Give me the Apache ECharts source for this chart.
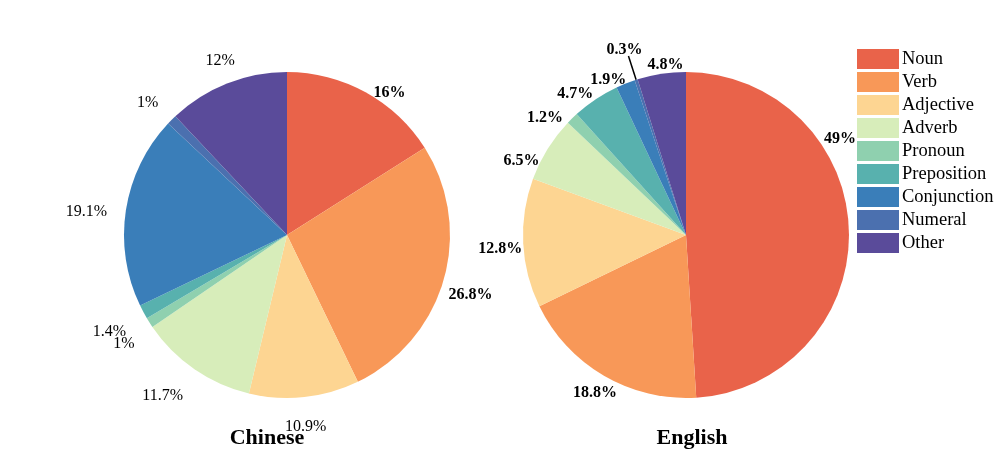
<!DOCTYPE html>
<html><head><meta charset="utf-8">
<script src="https://cdn.jsdelivr.net/npm/echarts@6/dist/echarts.min.js"></script>
<style>html,body{margin:0;padding:0;background:#fff}#c{width:996px;height:471px}</style>
</head><body><div id="c"></div>
<script>
const categories = ['Noun','Verb','Adjective','Adverb','Pronoun','Preposition','Conjunction','Numeral','Other'];
const chineseValues = [16, 26.8, 10.9, 11.7, 1, 1.4, 19.1, 1, 12];
const englishValues = [49, 18.8, 12.8, 6.5, 1.2, 4.7, 1.9, 0.3, 4.8];
const titles = ['Chinese', 'English'];
const colors = ['#E9634A','#F89858','#FDD592','#D7EDBA','#8FD0AF','#58B1AE','#3A7EB9','#4B70AF','#5A4B9A'];

// label nudges (style only, in px) per series / slice
const labelNudge = [
  [[0,6],[-6,13],[-25,24],[-3,22],[-5,18],[-7,17],[-8,2],[-4,-13],[15,-17]],
  [[-36,-91],[21,12],[10,5],[2,15],[0,4],[6,0],[8,2],[19,-6],[28,-3]]
];

const FONT = 'Liberation Serif';
const chart = echarts.init(document.getElementById('c'), null, {renderer:'canvas'});

function mkData(vals, boldSet, lineIdx) {
  return vals.map((v, i) => {
    const d = {name: categories[i], value: v,
      label: {fontWeight: boldSet.includes(i) ? 'bold' : 'normal'}};
    if (i === lineIdx) {
      d.labelLine = {show: true, length: 25, length2: 0, lineStyle:{color:'#000', width:1.5}};
    }
    return d;
  });
}

const baseSeries = {
  type: 'pie', radius: 163, startAngle: 90, clockwise: true,
  avoidLabelOverlap: false,
  label: {show: true, position: 'outside', formatter: p => p.value + '%',
    fontFamily: FONT, fontSize: 16, color: '#000'},
  labelLine: {show: false, length: 6, length2: 0},
  labelLayout: p => {
    const n = labelNudge[p.seriesIndex][p.dataIndex];
    return {hideOverlap: false, moveOverlap: null, dx: n[0], dy: n[1]};
  },
  emphasis: {disabled: true},
  itemStyle: {borderWidth: 0}
};

chart.setOption({
  animation: false,
  color: colors,
  title: [
    {text: titles[0], left: 267, top: 427, padding: 0, textAlign: 'center',
     textStyle: {fontFamily: FONT, fontSize: 22, fontWeight: 'bold', color: '#000'}},
    {text: titles[1], left: 692, top: 427, padding: 0, textAlign: 'center',
     textStyle: {fontFamily: FONT, fontSize: 22, fontWeight: 'bold', color: '#000'}}
  ],
  legend: {orient: 'vertical', left: 857, top: 49, padding: 0, itemWidth: 42, itemHeight: 20, itemGap: 3,
    icon: 'rect', data: categories,
    textStyle: {fontFamily: FONT, fontSize: 18.5, color: '#000', padding: [0,0,0,-2]}},
  series: [
    Object.assign({}, baseSeries, {name: titles[0], center: [287, 235],
      data: mkData(chineseValues, [0, 1], -1)}),
    Object.assign({}, baseSeries, {name: titles[1], center: [686, 235],
      data: mkData(englishValues, [0,1,2,3,4,5,6,7,8], 7)})
  ]
});
</script></body></html>
